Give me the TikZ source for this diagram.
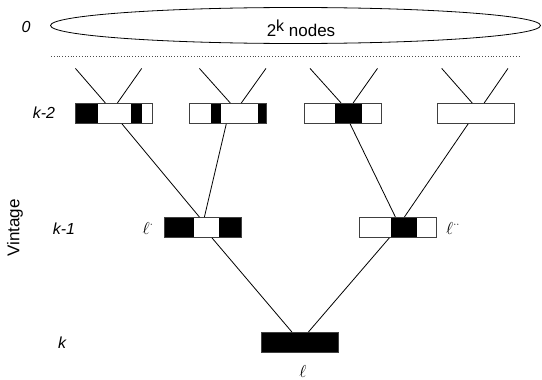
\documentclass[tikz,border=0pt]{standalone}
\usepackage{fontspec}
\setmainfont{Liberation Sans}
\usetikzlibrary{shapes.geometric}
\begin{document}
\begin{tikzpicture}[x=1pt,y=-1pt,
  cell/.style={draw=black!75, line width=0.8pt, minimum width=77pt, minimum height=20pt, inner sep=0pt, anchor=north west},
  blk/.style={fill=black},
  edge/.style={line width=0.8pt},
  lvl/.style={font=\fontsize{16}{18}\selectfont\itshape},
  lab/.style={font=\fontsize{16}{18}\selectfont, text=black}]
\useasboundingbox (0,0) rectangle (542,380);

% pool of nodes
\node[draw, line width=0.8pt, ellipse, minimum width=490pt, minimum height=36pt, inner sep=0pt] (pool) at (295.5,25.5) {};
\node[font=\fontsize{17}{20}\selectfont] (pooltxt) at (301,28) {2\raisebox{0.55ex}{\fontsize{16}{16}\selectfont k} nodes};
\coordinate (dl) at (51,56);
\coordinate (dr) at (519,56);
\draw[dotted, line width=0.8pt, black!70] (dl) -- (dr);

% level labels
\node[lvl] (l0) at (26,27) {0};
\node[lvl] (l2) at (44,113) {k-2};
\node[lvl] (l1) at (64,229) {k-1};
\node[lvl] (lk) at (62,343) {k};
\node[font=\fontsize{17}{20}\selectfont, rotate=90] (vint) at (15,228) {Vintage};

% black parts
\fill[blk] (74.5,103) rectangle (97.8,123);
\fill[blk] (131.4,103) rectangle (142.4,123);
\fill[blk] (210.9,103) rectangle (220.5,123);
\fill[blk] (257.5,103) rectangle (266.5,123);
\fill[blk] (335.3,103) rectangle (361.9,123);
\fill[blk] (163.5,217) rectangle (194.3,237);
\fill[blk] (219,217) rectangle (240.7,237);
\fill[blk] (390.7,217) rectangle (416.7,237);
\fill[blk] (261,332) rectangle (338.3,352);

% boxes
\node[cell] (a1) at (74.5,103) {};
\node[cell] (a2) at (189.4,103) {};
\node[cell] (a3) at (304.2,103) {};
\node[cell] (a4) at (437.3,103) {};
\node[cell] (b1) at (163.5,217) {};
\node[cell] (b2) at (359,217) {};
\node[cell] (c1) at (261,332) {};

% labels
\node[lab] (lp) at (148,228) {$\ell^{\cdot}$};
\node[lab] (lpp) at (453,228) {$\ell^{\cdot\cdot}$};
\node[lab] (lc) at (303,371) {$\ell$};

% free ends of top edges
\coordinate (t1a) at (75.4,68.4);
\coordinate (t1b) at (141.7,68.4);
\coordinate (t2a) at (199.4,68.4);
\coordinate (t2b) at (266,68.4);
\coordinate (t3a) at (310,68.4);
\coordinate (t3b) at (377.5,68.4);
\coordinate (t4a) at (441.7,68.4);
\coordinate (t4b) at (508,68.4);

\draw[edge] (t1a) -- ([xshift=-8pt]a1.north);
\draw[edge] (t1b) -- ([xshift=4pt]a1.north);
\draw[edge] (t2a) -- ([xshift=2pt]a2.north);
\draw[edge] (t2b) -- ([xshift=13pt]a2.north);
\draw[edge] (t3a) -- ([xshift=-2pt]a3.north);
\draw[edge] (t3b) -- ([xshift=10pt]a3.north);
\draw[edge] (t4a) -- ([xshift=-4pt]a4.north);
\draw[edge] (t4b) -- ([xshift=8pt]a4.north);

% k-2 to k-1
\draw[edge] ([xshift=8.5pt]a1.south) -- ([xshift=-3pt]b1.north);
\draw[edge] ([xshift=-2pt]a2.south) -- ([xshift=2pt]b1.north);
\draw[edge] ([xshift=7pt]a3.south) -- ([xshift=-2.5pt]b2.north);
\draw[edge] ([xshift=-8pt]a4.south) -- ([xshift=6.5pt]b2.north);

% k-1 to k
\draw[edge] ([xshift=9.5pt]b1.south) -- ([xshift=-8pt]c1.north);
\draw[edge] ([xshift=-8.5pt]b2.south) -- ([xshift=8.5pt]c1.north);
\end{tikzpicture}
\end{document}
